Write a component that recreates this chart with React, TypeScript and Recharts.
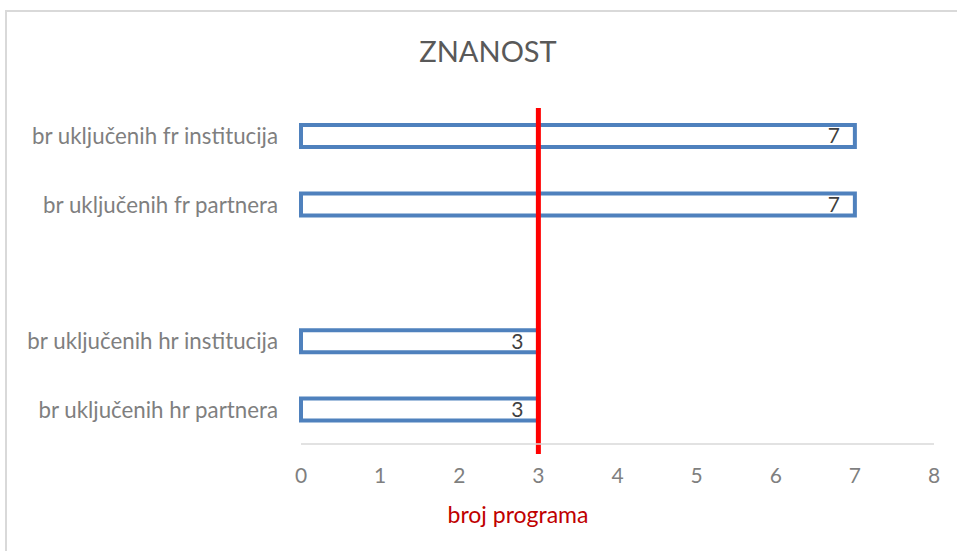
import { Bar, BarChart, LabelList, ReferenceLine, XAxis, YAxis } from "recharts";

const categories = [
  "br uključenih fr institucija",
  "br uključenih fr partnera",
  "",
  "br uključenih hr institucija",
  "br uključenih hr partnera",
];
const programCounts: (number | null)[] = [7, 7, null, 3, 3];
const xTicks = [0, 1, 2, 3, 4, 5, 6, 7, 8];
const threshold = 3;

const data = categories.map((name, i) => ({ name, value: programCounts[i] }));

const font = "Lato, Carlito, Calibri, sans-serif";

// red marker line runs a little past the plot at the bottom
function ThresholdLine(props: any) {
  const top = Math.min(props.y1, props.y2);
  const bottom = Math.max(props.y1, props.y2);
  return (
    <line x1={props.x1} x2={props.x2} y1={top + 6} y2={bottom + 10} stroke="#ff0000" strokeWidth={5} />
  );
}

export default function App() {
  return (
    <div
      style={{
        position: "absolute",
        left: 0,
        top: 0,
        width: 957,
        height: 551,
        overflow: "hidden",
        background: "#fff",
        fontFamily: font,
      }}
    >
      <div
        style={{
          position: "absolute",
          left: 5,
          top: 10,
          width: 1000,
          height: 600,
          border: "2px solid #d9d9d9",
        }}
      />
      <div
        style={{
          position: "absolute",
          left: 0,
          width: 976,
          top: 33,
          textAlign: "center",
          fontSize: 29,
          color: "#595959",
        }}
      >
        ZNANOST
      </div>
      <div
        style={{
          position: "absolute",
          left: 0,
          width: 1036,
          top: 500,
          textAlign: "center",
          fontSize: 23,
          color: "#c00000",
        }}
      >
        broj programa
      </div>
      <div style={{ position: "absolute", left: 0, top: 0 }}>
        <BarChart
          width={957}
          height={551}
          data={data}
          layout="vertical"
          margin={{ top: 102, right: 23, bottom: 67, left: 0 }}
        >
          <XAxis
            type="number"
            domain={[0, 8]}
            ticks={xTicks}
            height={40}
            tickLine={false}
            tickSize={0}
            tickMargin={24}
            axisLine={{ stroke: "#d9d9d9", strokeWidth: 1.5 }}
            tick={{ fill: "#7f7f7f", fontSize: 21, fontFamily: font }}
          />
          <YAxis
            type="category"
            dataKey="name"
            width={301}
            axisLine={false}
            tickLine={false}
            tickSize={0}
            tickMargin={23}
            interval={0}
            tick={{ fill: "#7f7f7f", fontSize: 22.3, fontFamily: font }}
          />
          <Bar
            dataKey="value"
            barSize={22}
            fill="#ffffff"
            stroke="#4f81bd"
            strokeWidth={4}
            isAnimationActive={false}
          >
            <LabelList
              dataKey="value"
              position="insideRight"
              offset={15}
              fill="#404040"
              fontSize={21}
              fontFamily={font}
            />
          </Bar>
          <ReferenceLine x={threshold} ifOverflow="visible" shape={ThresholdLine} />
        </BarChart>
      </div>
    </div>
  );
}
